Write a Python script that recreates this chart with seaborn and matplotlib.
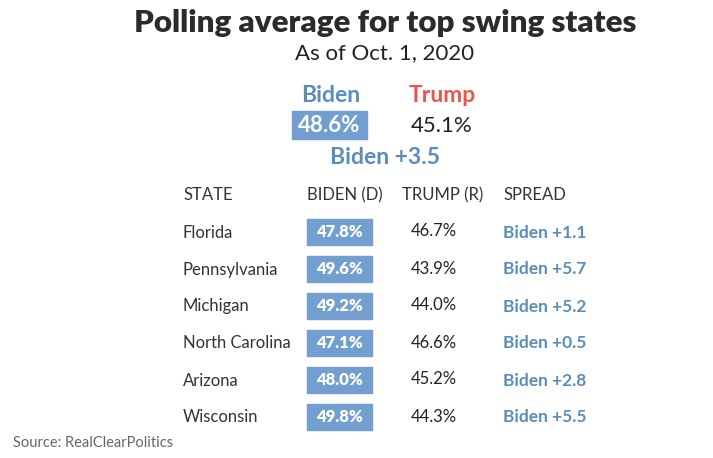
import matplotlib
matplotlib.use("Agg")
import matplotlib.pyplot as plt
import seaborn as sns

# --- data ---
states = ["Florida", "Pennsylvania", "Michigan", "North Carolina", "Arizona", "Wisconsin"]
biden = [47.8, 49.6, 49.2, 47.1, 48.0, 49.8]
trump = [46.7, 43.9, 44.0, 46.6, 45.2, 44.3]
overall_biden = 48.6
overall_trump = 45.1
headers = ["STATE", "BIDEN (D)", "TRUMP (R)", "SPREAD"]

BLUE_BOX = "#729fcf"
BLUE_TXT = "#5b8dba"
RED = "#e8574b"
DARK = "#333333"

sns.set_theme(style="white")
plt.rcParams["font.family"] = ["Lato", "DejaVu Sans"]

fig = plt.figure(figsize=(7.13, 4.58), dpi=100)
ax = fig.add_axes([0, 0, 1, 1])
ax.set_xlim(0, 713)
ax.set_ylim(458, 0)
ax.axis("off")

# titles
ax.text(385, 23, "Polling average for top swing states", ha="center", va="center",
        fontsize=22.5, fontweight="heavy", color="#2b2b2b")
ax.text(385, 53, "As of Oct. 1, 2020", ha="center", va="center", fontsize=16, color="#222222")

# overall summary
ax.text(331, 95, "Biden", ha="center", va="center", fontsize=16.5, fontweight="bold", color=BLUE_TXT)
ax.text(442, 95, "Trump", ha="center", va="center", fontsize=16.5, fontweight="bold", color=RED)
ax.add_patch(plt.Rectangle((292, 111), 75, 28, color=BLUE_BOX))
ax.text(329.5, 126, f"{overall_biden:.1f}%", ha="center", va="center", fontsize=16,
        fontweight="bold", color="white")
ax.text(442, 126, f"{overall_trump:.1f}%", ha="center", va="center", fontsize=16, color="#222222")
ax.text(385, 158, f"Biden +{overall_biden - overall_trump:.1f}", ha="center", va="center",
        fontsize=16.5, fontweight="bold", color=BLUE_TXT)

# table
col_x = [183, 307, 402, 503]
for x, h in zip(col_x, headers):
    ax.text(x, 195, h, ha="left", va="center", fontsize=12, color=DARK)

row_y0, row_dy = 231, 37
for i, (s, b, t) in enumerate(zip(states, biden, trump)):
    y = row_y0 + i * row_dy
    ax.text(183, y + 1.5, s, ha="left", va="center", fontsize=12, color=DARK)
    ax.add_patch(plt.Rectangle((307, y - 12.5), 65, 26, color=BLUE_BOX))
    ax.text(339.5, y + 1, f"{b:.1f}%", ha="center", va="center", fontsize=12,
            fontweight="heavy", color="white")
    ax.text(434, y + 0.5, f"{t:.1f}%", ha="center", va="center", fontsize=12, color="#222222")
    ax.text(503, y + 1.5, f"Biden +{b - t:.1f}", ha="left", va="center", fontsize=12.5,
            fontweight="bold", color=BLUE_TXT)

ax.text(13, 443, "Source: RealClearPolitics", ha="left", va="center", fontsize=10.5, color="#666666")

fig.savefig("out.png", dpi=100, facecolor="white")
